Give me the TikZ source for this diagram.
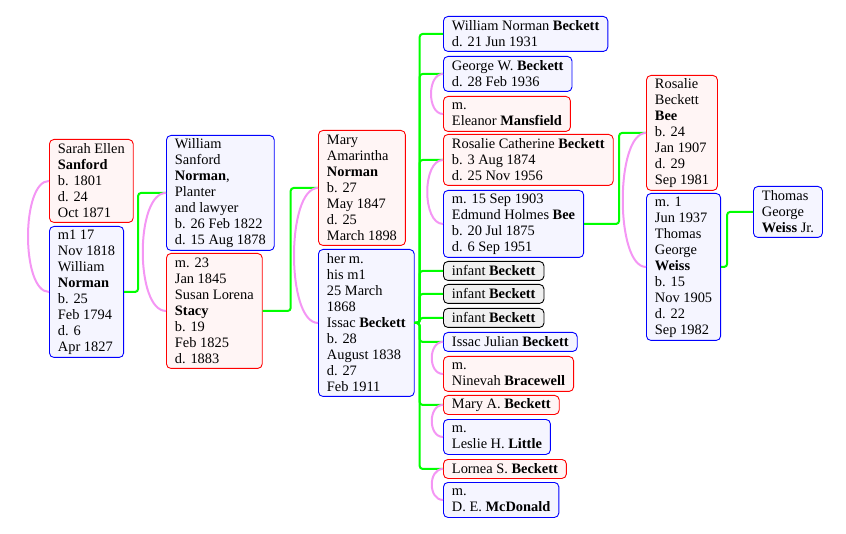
\documentclass[tikz,border=0pt]{standalone}
\usepackage{fontspec}
\setmainfont{Liberation Serif}
\usepackage{tikz}
\usepackage{xcolor}

\definecolor{couplepink}{RGB}{244,150,244}

\tikzset{
  person/.style={draw, rounded corners=4.5pt, line width=0.9pt, anchor=north west,
    align=left, inner xsep=8.5pt, inner ysep=1pt,
    font=\fontsize{14.4}{16}\selectfont},
  male/.style={person, draw=blue, fill=blue!4},
  female/.style={person, draw=red, fill=red!4},
  neuter/.style={person, draw=black, fill=black!6},
  nlines/.style={minimum height=16*#1+3},
  kid/.style={draw=green, line width=2pt, rounded corners=3pt},
  spouse/.style={draw=couplepink, line width=2pt},
}

\begin{document}
\begin{tikzpicture}[x=1pt,y=-1pt]
			\useasboundingbox (0,0) rectangle (846,534);
			% grandparents
			\node[female, nlines=5] (sarah) at (49,139) {Sarah Ellen\\\textbf{Sanford}\\b. 1801\\d. 24\\Oct 1871};
			\node[male, nlines=8] (william) at (49,226) {m1 17\\Nov 1818\\William\\\textbf{Norman}\\b. 25\\Feb 1794\\d. 6\\Apr 1827};
			% parents
			\node[male, nlines=7] (wsnorman) at (166,135) {William\\Sanford\\\textbf{Norman},\\Planter\\and lawyer\\b. 26 Feb 1822\\d. 15 Aug 1878};
			\node[female, nlines=7] (susan) at (166,253) {m. 23\\Jan 1845\\Susan Lorena\\\textbf{Stacy}\\b. 19\\Feb 1825\\d. 1883};
			\node[female, nlines=7] (mary) at (318,130) {Mary\\Amarintha\\\textbf{Norman}\\b. 27\\May 1847\\d. 25\\March 1898};
			\node[male, nlines=9] (issac) at (318,249) {her m.\\his m1\\25 March\\1868\\Issac \textbf{Beckett}\\b. 28\\August 1838\\d. 27\\Feb 1911};
			% children
			\node[male, nlines=2] (wnb) at (443,16) {William Norman \textbf{Beckett}\\d. 21 Jun 1931};
			\node[male, nlines=2] (george) at (443,56) {George W. \textbf{Beckett}\\d. 28 Feb 1936};
			\node[female, nlines=2] (eleanor) at (443,96) {m.\\Eleanor \textbf{Mansfield}};
			\node[female, nlines=3] (rosalie) at (443,134) {Rosalie Catherine \textbf{Beckett}\\b. 3 Aug 1874\\d. 25 Nov 1956};
			\node[male, nlines=4] (edmund) at (443,190) {m. 15 Sep 1903\\Edmund Holmes \textbf{Bee}\\b. 20 Jul 1875\\d. 6 Sep 1951};
			\foreach \y/\n in {261/inf1,284/inf2,308/inf3}{
				\node[neuter, nlines=1] (\n) at (443,\y) {infant \textbf{Beckett}};
			}
			\node[male, nlines=1] (julian) at (443,332) {Issac Julian \textbf{Beckett}};
			\node[female, nlines=2] (ninevah) at (443,356) {m.\\Ninevah \textbf{Bracewell}};
			\node[female, nlines=1] (marya) at (443,395) {Mary A. \textbf{Beckett}};
			\node[male, nlines=2] (leslie) at (443,419) {m.\\Leslie H. \textbf{Little}};
			\node[female, nlines=1] (lornea) at (443,459) {Lornea S. \textbf{Beckett}};
			\node[male, nlines=2] (mcdonald) at (443,482) {m.\\D. E. \textbf{McDonald}};
			% grandchildren
			\node[female, nlines=7] (rosbee) at (646,75) {Rosalie\\Beckett\\\textbf{Bee}\\b. 24\\Jan 1907\\d. 29\\Sep 1981};
			\node[male, nlines=9] (weiss) at (646,193) {m. 1\\Jun 1937\\Thomas\\George\\\textbf{Weiss}\\b. 15\\Nov 1905\\d. 22\\Sep 1982};
			\node[male, nlines=3] (weissjr) at (753,186) {Thomas\\George\\\textbf{Weiss} Jr.};
			% child lines
			\draw[kid] (william.east) -- ++(14,0) |- (wsnorman.west);
			\draw[kid] (susan.east) -- ++(28,0) |- (mary.west);
			\foreach \c in {wnb,george,rosalie,inf1,inf2,inf3,julian,marya,lornea}{
				\draw[kid] (issac.east) -- ++(5,0) |- (\c.west);
			}
			\draw[kid] (edmund.east) -- ++(35,0) |- (rosbee.west);
			\draw[kid] (weiss.east) -- ++(6,0) |- (weissjr.west);
			% couples
			\draw[spouse] (sarah.west) .. controls +(-28,0) and +(-28,0) .. (william.west);
			\draw[spouse] (wsnorman.west) .. controls +(-31,0) and +(-31,0) .. (susan.west);
			\draw[spouse] (mary.west) .. controls +(-32,0) and +(-32,0) .. (issac.west);
			\draw[spouse] (george.west) .. controls +(-16,0) and +(-16,0) .. (eleanor.west);
			\draw[spouse] (rosalie.west) .. controls +(-21,0) and +(-21,0) .. (edmund.west);
			\draw[spouse] (julian.west) .. controls +(-15,0) and +(-15,0) .. (ninevah.west);
			\draw[spouse] (marya.west) .. controls +(-15,0) and +(-15,0) .. (leslie.west);
			\draw[spouse] (lornea.west) .. controls +(-15,0) and +(-15,0) .. (mcdonald.west);
			\draw[spouse] (rosbee.west) .. controls +(-31,0) and +(-31,0) .. (weiss.west);
		\end{tikzpicture}
\end{document}
